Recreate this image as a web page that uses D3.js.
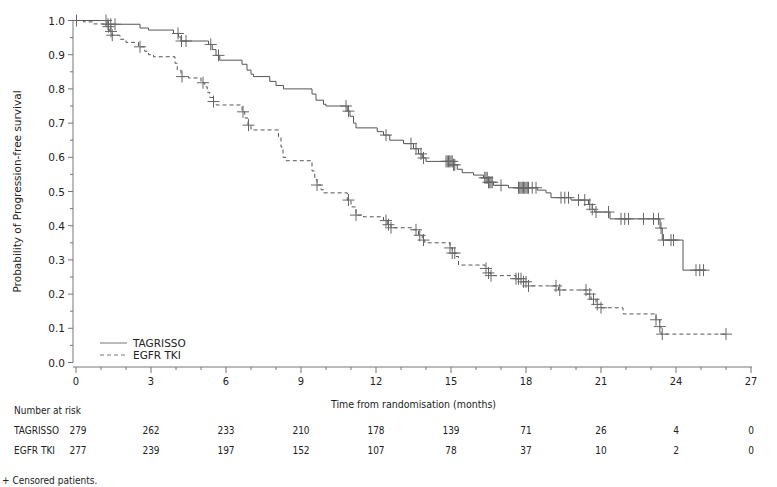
<!DOCTYPE html>
<html>
<head>
<meta charset="utf-8">
<script src="https://cdn.jsdelivr.net/npm/d3@7"></script>
<style>
  body { margin: 0; background: #fff; }
  text { fill: #222; }
</style>
</head>
<body>
<div class="km-plot"></div>
<script>
// Kaplan-Meier PFS, values
const xTicks = [0, 3, 6, 9, 12, 15, 18, 21, 24, 27];
const yTicks = [0.0, 0.1, 0.2, 0.3, 0.4, 0.5, 0.6, 0.7, 0.8, 0.9, 1.0];

const seriesNames = ["TAGRISSO", "EGFR TKI"];

// [month, survival after the step]
const tagSteps = [
  [0, 1.0], [1.24, 0.989], [2.56, 0.978], [2.9, 0.972], [3.9, 0.962], [4.1, 0.952], [4.2, 0.94],
  [5.3, 0.93], [5.45, 0.915], [5.6, 0.898], [5.75, 0.884], [6.64, 0.872], [6.84, 0.855],
  [7.0, 0.843], [7.1, 0.836], [7.75, 0.822], [8.0, 0.81], [8.3, 0.80], [9.44, 0.785],
  [9.6, 0.767], [9.9, 0.755], [10.0, 0.75], [10.85, 0.735], [10.96, 0.72], [11.1, 0.70],
  [11.2, 0.686], [12.05, 0.675], [12.3, 0.665], [12.55, 0.65], [13.1, 0.64], [13.5, 0.625],
  [13.7, 0.61], [13.85, 0.598], [14.0, 0.588], [15.1, 0.578], [15.25, 0.565], [15.45, 0.555],
  [15.9, 0.548], [16.3, 0.54], [16.5, 0.527], [16.7, 0.518], [17.3, 0.511], [18.45, 0.504],
  [18.8, 0.496], [19.0, 0.482], [19.8, 0.475], [20.5, 0.462], [20.65, 0.448], [20.75, 0.44],
  [21.36, 0.42], [23.36, 0.393], [23.45, 0.358], [24.28, 0.27]
];
const tagEnd = 25.2;
const tagCensor = [0.02, 1.2, 1.28, 1.39, 1.56, 4.08, 4.22, 4.4, 5.39, 5.7, 10.8, 10.9,
  12.4, 13.4, 13.6, 13.8, 13.9, 14.8, 14.85, 14.9, 14.95, 15.0, 15.05, 15.1, 15.15,
  16.35, 16.4, 16.45, 16.5, 16.55, 16.6, 16.65, 17.0, 17.7, 17.75, 17.8, 17.85, 17.9,
  17.95, 18.0, 18.05, 18.1, 18.25, 18.4, 19.4, 19.55, 19.7, 20.1, 20.35, 20.55, 20.65,
  20.8, 21.3, 21.8, 21.95, 22.1, 22.7, 23.1, 23.3, 23.4, 23.5, 23.8, 23.9, 24.8, 24.95, 25.1];

const egfrSteps = [
  [0, 1.0], [0.3, 0.996], [0.7, 0.99], [1.2, 0.982], [1.35, 0.968], [1.45, 0.957], [1.76, 0.945],
  [2.0, 0.936], [2.5, 0.923], [2.75, 0.91], [2.9, 0.9], [3.1, 0.894], [3.96, 0.875],
  [4.05, 0.855], [4.2, 0.836], [4.5, 0.832], [5.0, 0.818], [5.15, 0.806], [5.25, 0.79],
  [5.35, 0.775], [5.5, 0.763], [5.6, 0.753], [6.64, 0.733], [6.75, 0.715], [6.88, 0.694],
  [7.0, 0.68], [8.1, 0.66], [8.2, 0.63], [8.28, 0.60], [8.4, 0.59], [9.44, 0.56],
  [9.55, 0.535], [9.64, 0.519], [9.8, 0.505], [9.9, 0.496], [10.85, 0.475], [11.0, 0.455],
  [11.2, 0.431], [11.5, 0.426], [12.3, 0.415], [12.45, 0.403], [12.6, 0.394], [13.5, 0.388],
  [13.7, 0.372], [13.85, 0.358], [13.95, 0.35], [14.96, 0.335], [15.05, 0.32], [15.2, 0.31],
  [15.3, 0.285], [16.36, 0.275], [16.5, 0.262], [16.6, 0.254], [17.6, 0.245], [17.9, 0.236],
  [18.1, 0.224], [19.3, 0.212], [20.45, 0.2], [20.6, 0.185], [20.8, 0.17], [21.0, 0.16],
  [21.88, 0.142], [23.2, 0.125], [23.35, 0.105], [23.4, 0.083]
];
const egfrEnd = 26.04;
const egfrCensor = [1.3, 1.4, 1.45, 2.56, 4.24, 5.08, 5.5, 6.68, 6.9, 9.64, 10.9, 11.2,
  12.4, 12.5, 12.6, 13.6, 13.75, 13.9, 14.96, 15.05, 15.15, 16.4, 16.5, 16.6, 17.6, 17.7,
  17.8, 17.9, 18.0, 18.1, 19.2, 19.35, 20.4, 20.55, 20.7, 20.85, 21.0, 23.2, 23.35, 23.45, 26.0];

const riskTimes = [0, 3, 6, 9, 12, 15, 18, 21, 24, 27];
const tagRisk = [279, 262, 233, 210, 178, 139, 71, 26, 4, 0];
const egfrRisk = [277, 239, 197, 152, 107, 78, 37, 10, 2, 0];

const width = 777;
const height = 487;
const narrow = "'Liberation Sans Narrow', 'DejaVu Sans Condensed', sans-serif";
const wide = "'DejaVu Sans', Verdana, sans-serif";

const x = d3.scaleLinear().domain([0, 27]).range([76, 751]);
const y = d3.scaleLinear().domain([0, 1]).range([362.5, 20.5]);

const svg = d3.select('.km-plot')
  .append('svg')
  .attr('width', width)
  .attr('height', height);

// y axis
const yAxis = svg.append("g").attr("transform", "translate(73,0)");
yAxis.append("line")
  .attr("y1", y(1)).attr("y2", y(0))
  .attr("stroke", "#777");
yAxis.selectAll("line.minor")
  .data(d3.range(0, 1.0001, 0.05))
  .enter()
  .append("line")
  .attr("class", "minor")
  .attr("x1", 0)
  .attr("x2", d => Math.round(d * 100) % 10 == 0 ? -5 : -3)
  .attr("y1", d => y(d)).attr("y2", d => y(d))
  .attr("stroke", "#777");
yAxis.selectAll("text")
  .data(yTicks)
  .enter()
  .append("text")
  .attr("x", -8)
  .attr("y", d => y(d) + 4)
  .attr("text-anchor", "end")
  .attr("font-family", wide)
  .attr("font-size", 10.5)
  .text(d => d.toFixed(1));

svg.append("text")
  .attr("transform", "translate(21," + y(0.5) + ") rotate(-90)")
  .attr("text-anchor", "middle")
  .attr("font-family", wide)
  .attr("font-size", 10.5)
  .text("Probability of Progression-free survival");

// x axis
const xAxis = svg.append("g").attr("transform", "translate(0,367)");
xAxis.append("line")
  .attr("x1", 73).attr("x2", x(27) + 1)
  .attr("stroke", "#777");
xAxis.selectAll("line.tick")
  .data(d3.range(0, 28))
  .enter()
  .append("line")
  .attr("class", "tick")
  .attr("x1", d => x(d)).attr("x2", d => x(d))
  .attr("y1", 0)
  .attr("y2", d => d % 3 == 0 ? 6 : 3)
  .attr("stroke", "#777");
xAxis.selectAll("text")
  .data(xTicks)
  .enter()
  .append("text")
  .attr("x", d => x(d))
  .attr("y", 18)
  .attr("text-anchor", "middle")
  .attr("font-family", narrow)
  .attr("font-size", 11)
  .text(d => d);

svg.append("text")
  .attr("x", (x(0) + x(27)) / 2)
  .attr("y", 408)
  .attr("text-anchor", "middle")
  .attr("font-family", narrow)
  .attr("font-size", 10.5)
  .text("Time from randomisation (months)");

// curves
function survAt(steps, t) {
  let s = 1;
  steps.forEach(p => { if (p[0] <= t) s = p[1]; });
  return s;
}

const line = d3.line()
  .x(d => x(d[0]))
  .y(d => y(d[1]))
  .curve(d3.curveStepAfter);

const curves = [
  { steps: tagSteps, end: tagEnd, censor: tagCensor, dash: null },
  { steps: egfrSteps, end: egfrEnd, censor: egfrCensor, dash: "4,3" }
];

curves.forEach(c => {
  const pts = c.steps.concat([[c.end, c.steps[c.steps.length - 1][1]]]);
  svg.append("path")
    .datum(pts)
    .attr("d", line)
    .attr("fill", "none")
    .attr("stroke", "#555")
    .attr("stroke-width", 1)
    .attr("stroke-dasharray", c.dash);

  svg.append("g")
    .selectAll("path")
    .data(c.censor)
    .enter()
    .append("path")
    .attr("d", d => {
      const cx = x(d), cy = y(survAt(c.steps, d));
      return "M" + (cx - 6) + "," + cy + "H" + (cx + 6) + "M" + cx + "," + (cy - 6) + "V" + (cy + 6);
    })
    .attr("fill", "none")
    .attr("stroke", "#666")
    .attr("stroke-width", 1);
});

// legend
const legend = svg.append("g");
legend.selectAll("line")
  .data(seriesNames)
  .enter()
  .append("line")
  .attr("x1", 100).attr("x2", 127)
  .attr("y1", (d, i) => 343 + i * 12)
  .attr("y2", (d, i) => 343 + i * 12)
  .attr("stroke", "#777")
  .attr("stroke-dasharray", (d, i) => i == 1 ? "4,3" : null);
legend.selectAll("text")
  .data(seriesNames)
  .enter()
  .append("text")
  .attr("x", 133)
  .attr("y", (d, i) => 347 + i * 12)
  .attr("font-family", wide)
  .attr("font-size", 10.5)
  .text(d => d);

// number at risk
svg.append("text")
  .attr("x", 14).attr("y", 414)
  .attr("font-family", narrow)
  .attr("font-size", 10)
  .text("Number at risk");

[tagRisk, egfrRisk].forEach((row, r) => {
  const ry = 434 + r * 20;
  svg.append("text")
    .attr("x", 14).attr("y", ry)
    .attr("font-family", narrow)
    .attr("font-size", 10)
    .text(seriesNames[r]);
  svg.append("g")
    .selectAll("text")
    .data(row)
    .enter()
    .append("text")
    .attr("x", (d, i) => x(riskTimes[i]) + (i == 0 ? 2 : 0))
    .attr("y", ry)
    .attr("text-anchor", "middle")
    .attr("font-family", narrow)
    .attr("font-size", 10)
    .text(d => d);
});

svg.append("text")
  .attr("x", 2).attr("y", 484)
  .attr("font-family", narrow)
  .attr("font-size", 10)
  .text("+ Censored patients.");
</script>
</body>
</html>
